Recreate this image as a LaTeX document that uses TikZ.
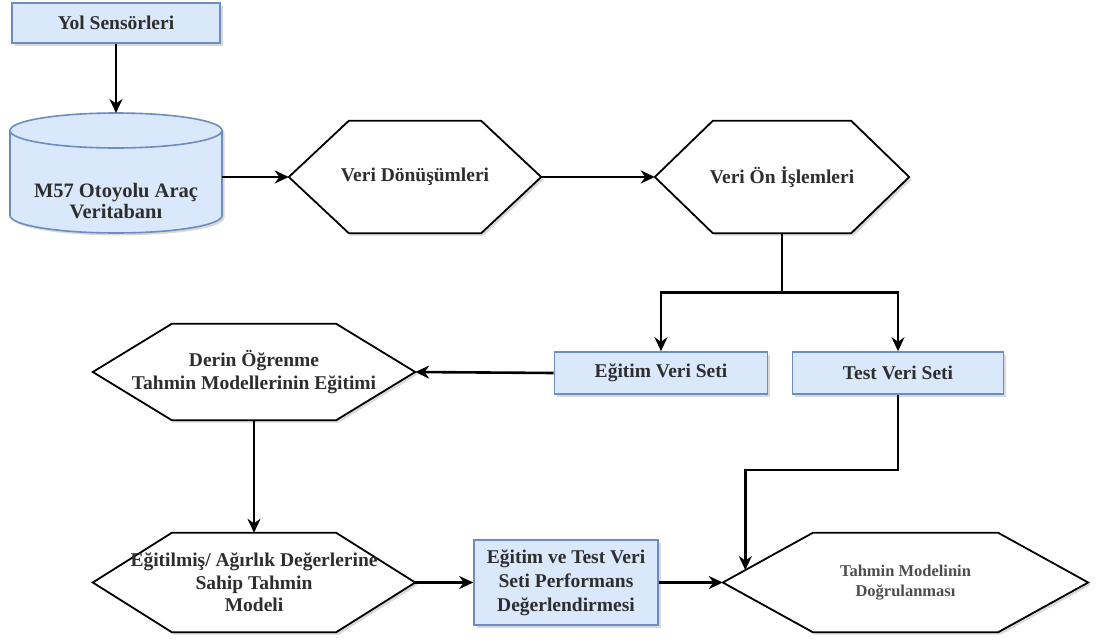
\documentclass[tikz,border=0pt]{standalone}
\usepackage{fontspec}
\setmainfont{Liberation Serif}
\usetikzlibrary{arrows.meta,shadows,calc,backgrounds}
\definecolor{boxfill}{HTML}{DAE8FC}
\definecolor{boxline}{HTML}{6C8EBF}
\definecolor{txt}{HTML}{2E2E2E}
\tikzset{
  shadowed/.style={drop shadow={shadow xshift=2.5pt,shadow yshift=-2.5pt,opacity=0.3}},
  bluebox/.style={draw=boxline, fill=boxfill, line width=1.6pt, shadowed, font=\fontsize{19.5}{24}\selectfont\bfseries, text=txt, align=center, inner sep=0pt},
  hexnode/.style={inner sep=0pt, align=center, font=\fontsize{19.5}{22.5}\selectfont\bfseries, text=txt},
  hexline/.style={draw=black, line width=1.8pt, fill=white, shadowed, line join=miter},
  arr/.style={line width=2.6pt, -{Stealth[length=14pt,width=13pt]}},
  plainline/.style={line width=2.6pt},
}
\newcommand{\hexpath}[2]{\draw[hexline] (#1.west) -- ([xshift=#2]#1.north west) -- ([xshift=-#2]#1.north east) -- (#1.east) -- ([xshift=-#2]#1.south east) -- ([xshift=#2]#1.south west) -- cycle;}
\begin{document}
\begin{tikzpicture}[x=1pt,y=1pt]
\useasboundingbox (0,0) rectangle (1096,-643);
% Yol Sensorleri
\node[bluebox, minimum width=208, minimum height=40] (ys) at (116,-23) {Yol Sensörleri};
% cylinder
\draw[draw=boxline, fill=boxfill, line width=1.6pt, shadowed]
  (10,-130.5) -- (10,-215.5) arc[start angle=180, end angle=360, x radius=106, y radius=17.5]
  -- (222,-130.5) arc[start angle=0, end angle=180, x radius=106, y radius=17.5] -- cycle;
\draw[draw=boxline, line width=1.6pt] (10,-130.5) arc[start angle=180, end angle=360, x radius=106, y radius=17.5];
\coordinate (dbtop) at (116,-113);
\node[hexnode, minimum width=212, font=\fontsize{20.5}{21}\selectfont\bfseries] (db) at (116,-201) {M57 Otoyolu Araç\\Veritabanı};
% hexagon nodes
\node[hexnode, minimum width=252, minimum height=112] (vd) at (415,-177) {Veri Dönüşümleri};
\node[hexnode, minimum width=254, minimum height=112] (vo) at (782,-177) {Veri Ön İşlemleri};
\node[hexnode, minimum width=322, minimum height=96] (dr) at (254,-372) {Derin Öğrenme\\Tahmin Modellerinin Eğitimi};
\node[hexnode, minimum width=322, minimum height=99] (em) at (254,-582.5) {Eğitilmiş/ Ağırlık Değerlerine\\Sahip Tahmin\\Modeli};
\node[hexnode, minimum width=365, minimum height=99, font=\fontsize{16.5}{20}\selectfont\bfseries, text=txt!85] (tm) at (905.5,-582.5) {Tahmin Modelinin\\Doğrulanması};
% boxes
\node[bluebox, minimum width=213, minimum height=42] (ev) at (661,-373) {Eğitim Veri Seti};
\node[bluebox, minimum width=211, minimum height=42] (tv) at (898,-373) {Test Veri Seti};
\node[bluebox, minimum width=184, minimum height=85] (pf) at (566,-582.5) {Eğitim ve Test Veri\\Seti Performans\\Değerlendirmesi};
\begin{scope}[on background layer]
\hexpath{vd}{60}
\hexpath{vo}{58}
\hexpath{dr}{79}
\hexpath{em}{79}
\hexpath{tm}{90}
\end{scope}
% connectors
\draw[arr] (ys.south) -- (dbtop);
\draw[arr] (db.east |- vd.west) -- (vd.west);
\draw[arr] (vd.east) -- (vo.west);
\coordinate (split) at ($(vo.south)+(0,-59)$);
\draw[plainline] (vo.south) -- (split);
\draw[arr] (split) -| (ev.north);
\draw[arr] (split) -| (tv.north);
\draw[arr] (ev.west) -- (dr.east);
\draw[arr] (dr.south) -- (em.north);
\draw[arr] (em.east) -- (pf.west);
\draw[arr] (pf.east) -- (tm.west);
\coordinate (tvturn) at ($(tv.south)+(0,-75)$);
\path (tm.west) -- ([xshift=90]tm.north west) coordinate[pos=0.25] (tmedge);
\draw[arr] (tv.south) -- (tvturn) -| (tmedge);
\end{tikzpicture}
\end{document}
